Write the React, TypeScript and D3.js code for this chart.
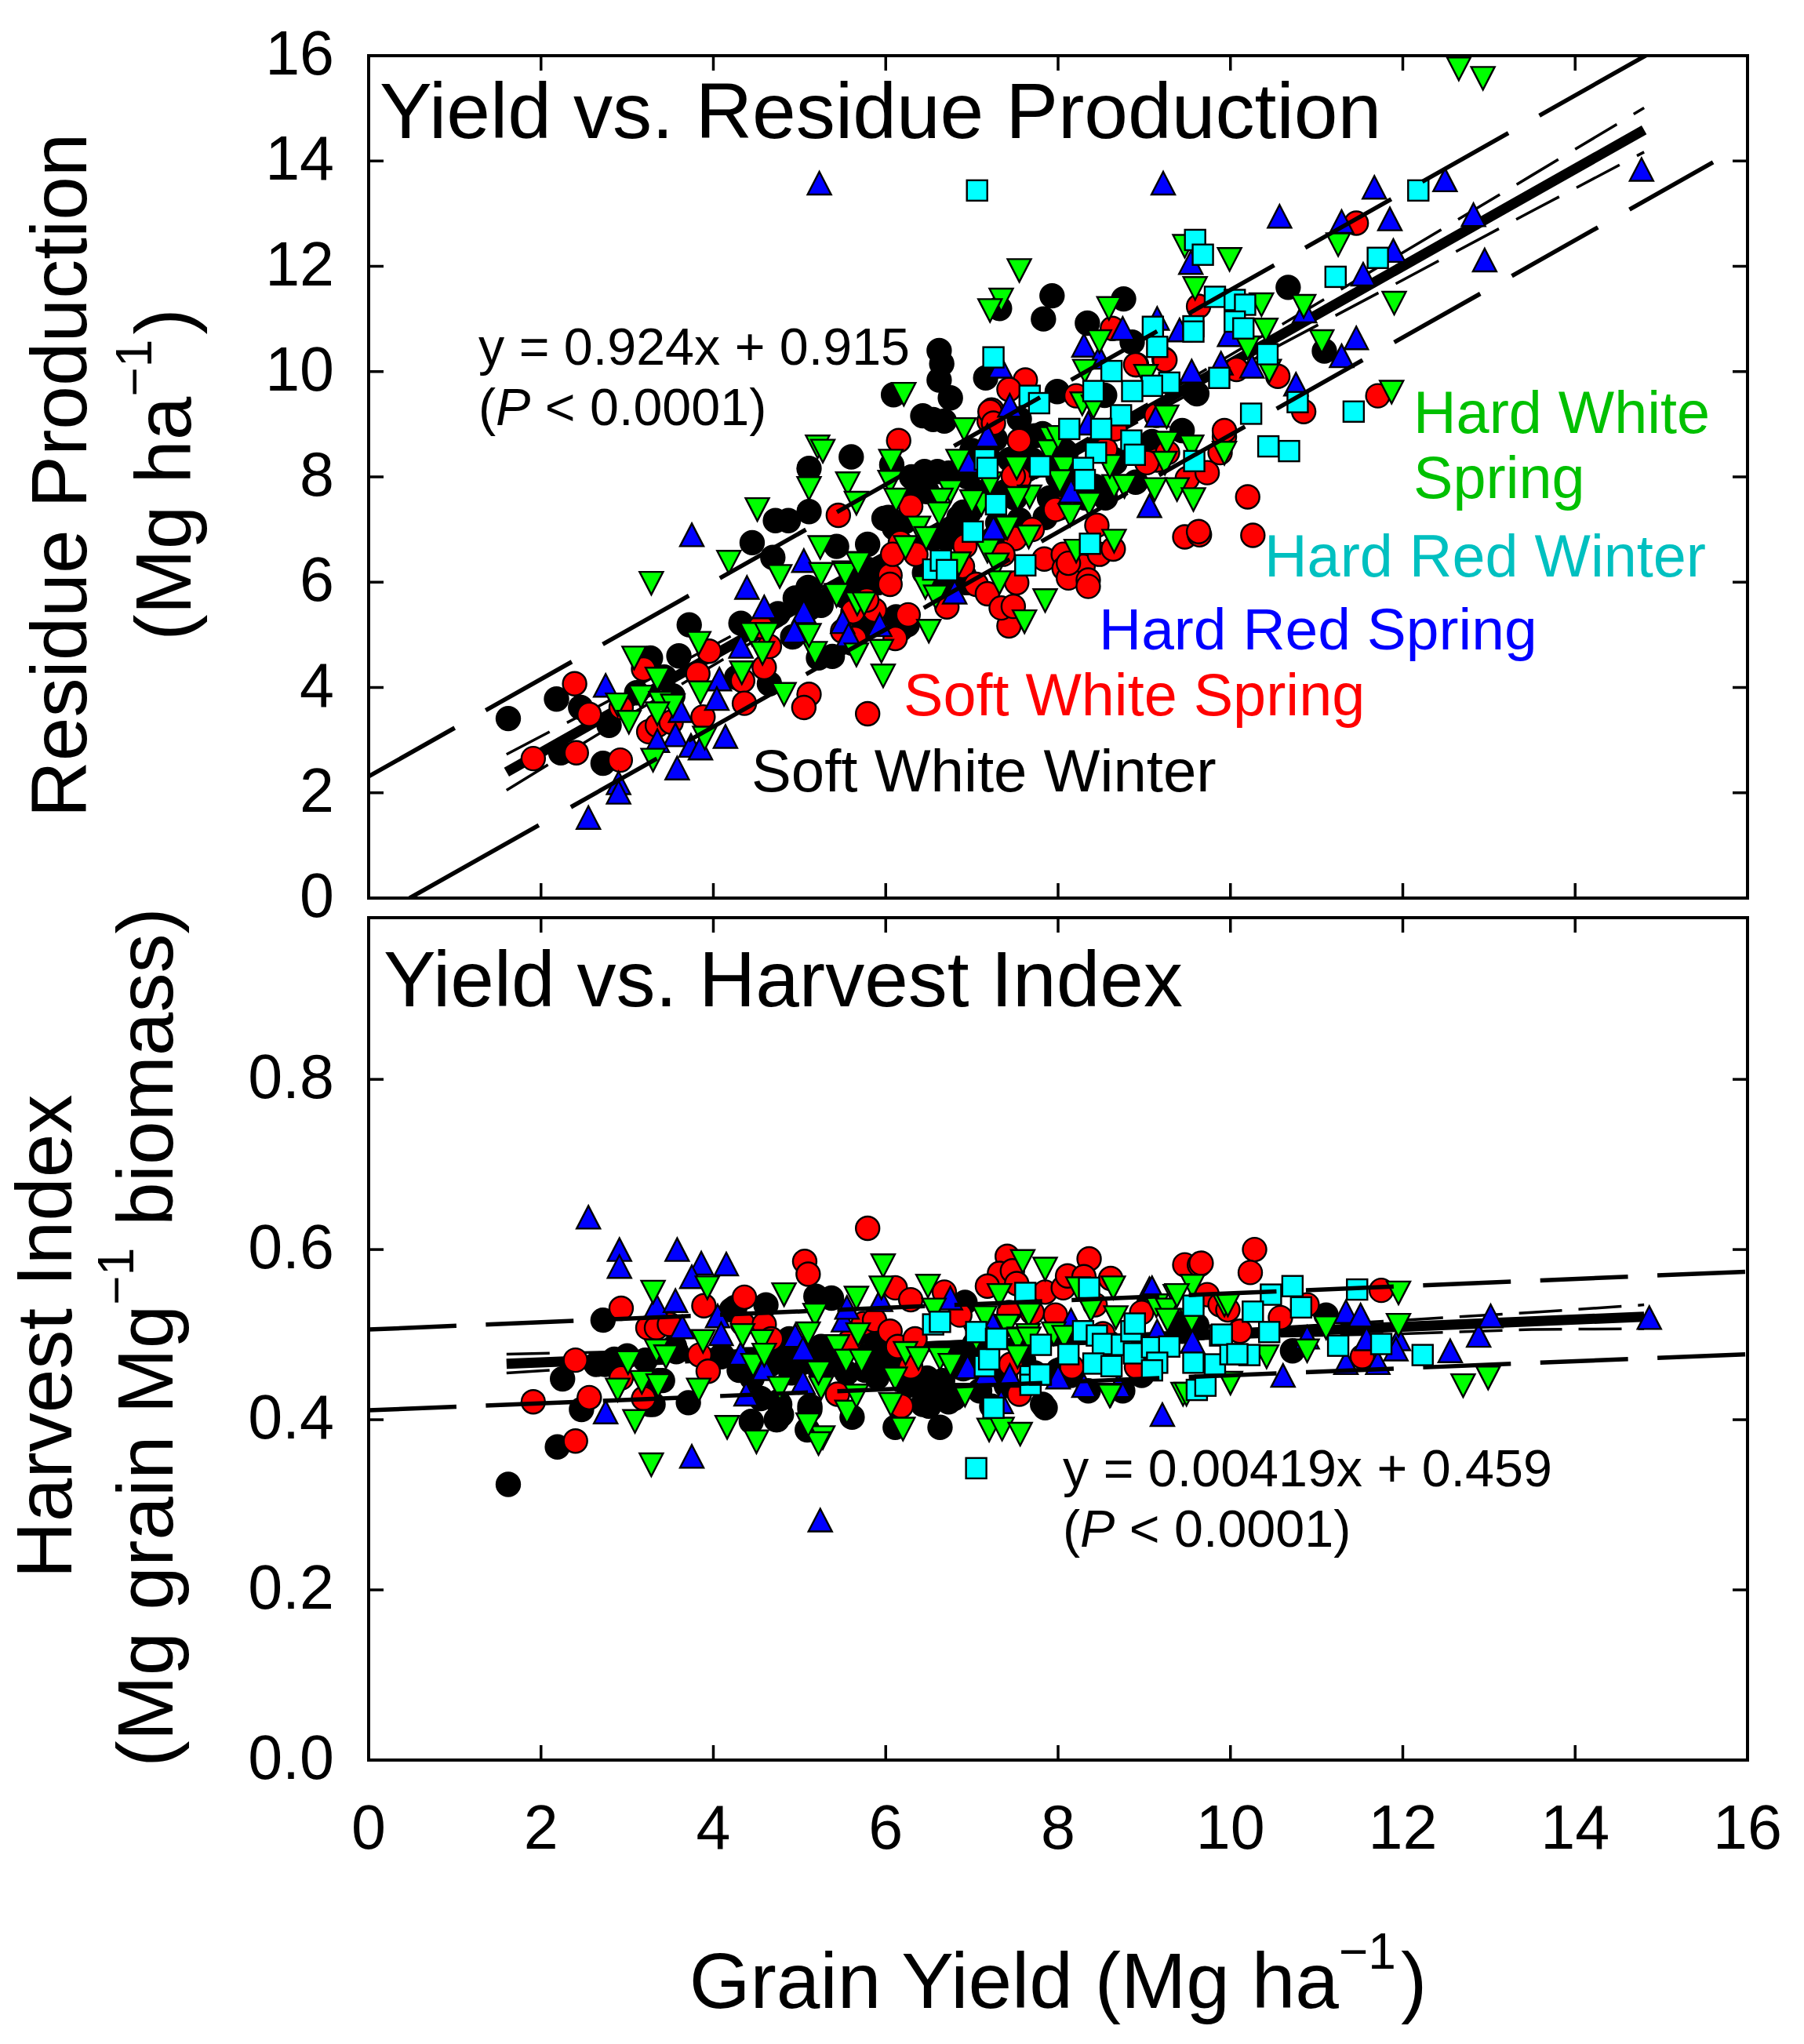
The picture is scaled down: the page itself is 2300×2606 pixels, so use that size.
import React from "react";
import * as d3 from "d3";

type Pt = [number, number];

const xTicks = [0, 2, 4, 6, 8, 10, 12, 14, 16];
const residueTicks = [0, 2, 4, 6, 8, 10, 12, 14, 16];
const hiTicks = ["0.0", "0.2", "0.4", "0.6", "0.8"];

// [grain yield, residue production]
const softWhiteWinterResidue: Pt[] = [[1.62,3.41],[2.18,3.78],[2.23,2.76],[2.46,3.62],[2.72,2.56],[2.79,3.28],[3.27,4.56],[3.11,3.9],[3.43,4.2],[3.53,3.84],[3.72,5.19],[4.32,5.22],[4.65,4.07],[4.27,4.19],[5.22,4.56],[5.38,4.59],[5.11,5.5],[4.92,4.96],[4.45,6.75],[4.69,6.47],[4.72,7.17],[4.87,7.17],[5.11,7.34],[5.43,6.68],[5.79,6.72],[5.11,8.16],[5.6,8.38],[6.09,9.56],[6.07,8.23],[6.62,10.4],[6.65,10.15],[6.62,9.84],[6.75,9.5],[6.43,9.16],[6.55,9.09],[6.68,9.06],[7.16,9.88],[6.45,8.1],[6.6,8.1],[6.73,8.07],[6.3,8.0],[6.03,7.23],[6.1,7.03],[6.48,7.72],[6.9,7.33],[6.73,6.93],[6.55,6.83],[6.85,7.1],[7.93,11.44],[7.83,11.0],[8.76,11.38],[8.34,10.92],[7.32,11.2],[10.67,11.6],[11.09,10.39],[9.58,9.62],[9.44,8.88],[8.86,10.56],[7.99,9.62],[8.54,9.55],[9.09,8.67],[8.65,8.33],[8.07,8.5],[7.73,8.78],[7.44,8.33],[8.05,7.76],[8.31,7.6],[5.1,5.9],[5.25,5.56],[5.52,5.74],[5.8,6.24],[6.22,7.15],[5.98,7.21],[5.75,6.0],[6.17,5.1],[6.91,6.13],[7.7,8.32],[7.6,8.67],[7.39,7.72],[7.85,7.23],[7.82,8.82],[8.43,7.82],[8.09,8.47],[7.18,8.42],[7.27,8.72],[8.66,8.27],[9.61,9.58],[6.7,6.83],[6.85,7.23],[6.97,7.33],[6.15,7.12],[6.3,7.57],[5.73,6.08],[5.91,5.99],[5.64,5.84],[6.94,5.99],[6.7,5.93],[6.12,5.34],[6.25,5.19],[5.73,5.14],[5.61,4.84],[6.45,6.18],[6.82,6.18],[7.25,6.83],[7.55,7.18],[7.3,7.12],[7.1,7.7],[7.5,7.6],[8.0,8.0],[8.25,8.1],[8.55,7.6],[8.9,7.9],[7.9,7.6],[6.95,8.0],[7.0,8.5],[7.55,9.1],[3.6,4.6],[4.75,5.4],[4.95,5.7]];
const softWhiteSpringResidue: Pt[] = [[2.39,4.07],[2.56,3.49],[1.91,2.65],[2.41,2.76],[2.92,2.62],[3.19,4.35],[2.93,3.62],[3.25,3.16],[3.35,3.28],[3.51,3.34],[3.82,4.26],[3.88,3.44],[3.95,4.69],[4.34,4.13],[4.36,3.7],[4.59,4.38],[4.65,4.78],[4.55,5.16],[5.11,3.87],[5.05,3.62],[5.79,3.5],[6.11,4.93],[6.26,5.38],[5.5,5.07],[5.64,4.93],[5.87,5.47],[5.78,5.66],[5.62,5.44],[6.05,6.13],[6.05,5.96],[6.71,5.53],[5.45,7.27],[6.29,7.44],[6.17,6.75],[6.08,6.53],[6.35,6.53],[6.92,6.69],[6.89,6.3],[6.15,8.69],[7.23,9.27],[7.2,9.06],[7.62,9.84],[7.43,9.66],[7.21,9.24],[7.25,9.02],[7.55,8.69],[7.55,7.97],[8.91,10.13],[9.23,10.24],[8.21,9.54],[9.14,9.17],[8.55,8.52],[8.66,8.91],[8.02,7.41],[9.15,8.32],[9.27,8.46],[9.03,8.27],[9.5,7.97],[9.73,8.08],[9.93,8.76],[9.88,8.46],[9.47,6.86],[9.64,6.9],[7.7,7.0],[7.5,6.83],[7.36,6.53],[7.84,6.44],[8.06,6.53],[8.07,6.26],[8.29,6.3],[8.48,6.53],[8.64,6.63],[8.45,7.08],[8.12,6.08],[8.35,6.04],[7.48,8.02],[11.46,12.82],[11.71,9.54],[10.85,9.24],[10.55,9.91],[10.07,10.04],[9.93,8.88],[10.2,7.62],[9.63,11.24],[9.24,10.22],[8.9,10.13],[8.63,10.82],[10.26,6.89],[9.63,6.96],[8.35,5.92],[7.43,5.17],[7.05,5.96],[8.12,6.36],[7.18,5.78],[7.34,5.51],[7.48,5.54],[7.52,5.99],[7.97,7.38]];
const hardRedSpringResidue: Pt[] = [[9.22,13.58],[5.23,13.58],[11.67,13.5],[12.49,13.64],[10.57,12.95],[11.29,12.85],[11.85,12.9],[14.77,13.84],[12.82,12.98],[12.95,12.12],[11.89,12.3],[11.54,11.85],[9.54,12.07],[10.86,11.15],[9.15,11.01],[9.41,10.79],[9.99,10.7],[8.75,10.82],[8.3,10.5],[11.46,10.64],[11.29,10.3],[8.48,10.27],[9.55,10.01],[9.89,10.16],[10.25,10.1],[10.76,9.76],[9.15,9.17],[7.44,9.36],[7.33,10.1],[8.35,9.02],[7.18,8.79],[8.15,7.73],[9.06,7.45],[3.75,6.9],[4.39,5.9],[4.59,5.53],[5.05,6.41],[5.05,5.44],[4.94,5.07],[5.5,5.25],[5.57,5.0],[5.93,5.19],[6.8,5.81],[4.32,4.78],[4.07,4.16],[4.04,3.79],[3.62,3.56],[3.56,3.1],[3.35,2.99],[4.14,3.07],[3.74,2.9],[3.85,2.85],[2.75,4.04],[2.9,2.19],[2.9,2.01],[3.58,2.47],[2.55,1.53],[6.95,8.3],[7.25,7.03]];
const hardWhiteSpringResidue: Pt[] = [[12.65,15.75],[12.93,15.57],[7.55,11.92],[9.99,12.13],[11.25,12.41],[9.47,12.38],[11.9,11.3],[9.59,11.58],[7.34,11.36],[7.21,11.16],[8.59,11.2],[10.36,11.27],[10.85,11.24],[10.41,10.79],[8.48,10.57],[11.06,10.57],[10.2,10.45],[11.87,9.61],[8.31,10.01],[9.02,9.91],[8.28,9.39],[8.41,9.33],[9.26,9.14],[10.45,10.01],[7.92,8.73],[7.89,8.48],[9.26,8.64],[9.93,8.45],[9.55,8.57],[9.24,8.26],[9.12,7.76],[9.38,7.76],[9.57,7.57],[8.65,7.82],[8.77,7.82],[7.52,8.17],[8.07,8.17],[8.02,7.91],[7.67,7.62],[7.53,7.59],[8.36,7.48],[6.21,9.57],[5.21,8.57],[5.27,8.49],[5.56,7.87],[5.11,7.78],[4.51,7.38],[6.06,8.3],[6.05,7.9],[5.66,7.5],[6.12,7.56],[6.38,7.03],[6.47,6.83],[6.23,6.66],[5.24,6.66],[5.7,6.36],[5.52,6.18],[4.77,6.11],[5.25,6.15],[6.75,7.72],[6.64,7.56],[6.62,7.3],[6.91,8.9],[6.84,8.3],[7.11,7.48],[7.0,7.53],[7.21,7.87],[7.18,6.59],[6.84,6.33],[4.18,6.38],[3.28,5.98],[5.53,6.15],[5.68,6.35],[5.43,5.75],[5.67,5.59],[6.5,5.07],[5.95,4.69],[5.97,4.22],[5.66,4.62],[5.18,4.65],[5.11,4.99],[4.45,5.01],[4.62,5.01],[4.57,4.65],[4.33,4.28],[3.83,4.84],[4.82,3.87],[3.85,3.9],[3.08,4.56],[3.35,4.16],[3.16,3.82],[2.89,3.67],[3.02,3.34],[3.39,3.7],[3.53,3.65],[3.35,3.5],[3.3,2.62],[3.9,3.04],[6.46,5.9],[6.58,5.72],[6.85,6.35],[7.61,5.25],[7.85,5.65],[8.65,6.78],[7.66,6.86],[8.14,7.27],[7.41,7.03],[7.29,6.33],[7.32,5.99],[8.21,6.59],[5.75,5.59],[8.0,8.75],[8.6,8.2]];
const hardRedWinterResidue: Pt[] = [[7.06,13.44],[12.18,13.44],[9.59,12.5],[9.68,12.22],[11.71,12.16],[11.22,11.8],[9.82,11.42],[10.05,11.36],[10.17,11.27],[10.05,10.95],[10.15,10.82],[9.57,10.86],[9.1,10.85],[9.15,10.47],[10.43,10.33],[7.25,10.27],[9.87,9.88],[9.29,9.79],[9.09,9.73],[8.86,9.63],[8.62,10.01],[8.41,9.63],[10.78,9.42],[10.24,9.2],[11.43,9.24],[10.44,8.58],[10.68,8.49],[7.67,9.54],[7.78,9.4],[8.73,9.17],[8.13,8.91],[8.5,8.91],[8.85,8.69],[8.44,8.46],[8.89,8.42],[9.58,8.3],[7.79,8.2],[8.29,8.17],[7.15,8.33],[7.18,8.17],[8.31,7.94],[7.28,7.48],[6.55,6.24],[6.64,6.41],[7.01,6.96],[7.62,6.32],[8.37,6.73],[9.57,10.76],[6.71,6.23]];

// [grain yield, harvest index]
const softWhiteWinterHI: Pt[] = [[1.62,.324],[2.19,.368],[2.47,.412],[2.72,.517],[2.25,.448],[2.74,.465],[3.71,.42],[3.26,.418],[3.36,.446],[3.57,.48],[3.21,.47],[4.1,.476],[4.31,.462],[4.25,.532],[4.61,.535],[4.44,.398],[4.74,.4],[5.12,.416],[5.09,.388],[4.77,.418],[5.19,.545],[5.37,.543],[5.61,.403],[5.04,.483],[5.82,.471],[6.11,.391],[6.5,.416],[6.63,.391],[6.55,.443],[6.14,.471],[6.92,.538],[7.23,.416],[7.85,.414],[6.43,.418],[6.73,.421],[6.55,.434],[8.35,.434],[8.75,.434],[9.56,.508],[10.72,.481],[11.11,.523],[9.44,.504],[7.82,.418],[5.55,.455],[5.9,.45],[6.3,.445],[6.9,.46],[7.1,.475],[7.4,.44],[3.0,.475],[4.9,.455],[5.3,.47],[5.6,.49],[6.7,.43],[8.05,.46],[7.6,.47],[8.6,.49],[3.41,.446],[3.55,.486],[3.3,.418],[4.09,.474],[4.3,.458],[4.21,.529],[4.88,.483],[4.75,.471],[2.85,.471],[2.64,.465],[4.73,.4],[5.0,.47],[5.88,.467],[5.76,.458],[6.06,.465],[4.88,.495],[5.24,.458],[5.43,.465],[5.03,.467],[6.48,.449],[6.66,.446],[6.79,.425],[6.45,.421],[4.66,.465],[4.45,.449],[4.55,.425],[4.79,.406],[4.75,.421],[5.12,.412],[5.25,.486],[5.88,.495],[6.3,.452],[6.25,.44],[7.09,.434],[7.15,.458],[6.88,.476],[7.03,.489],[8.0,.458],[8.15,.452],[7.73,.455],[7.39,.449],[8.97,.452],[9.61,.511],[9.39,.513]];
const softWhiteSpringHI: Pt[] = [[1.91,.421],[2.4,.375],[2.56,.426],[2.4,.47],[2.93,.531],[2.93,.449],[3.19,.425],[3.24,.508],[3.34,.508],[3.49,.512],[3.84,.476],[3.94,.457],[3.89,.534],[4.36,.544],[4.34,.513],[4.59,.512],[4.67,.495],[5.06,.586],[5.1,.571],[5.79,.625],[6.11,.555],[6.29,.541],[5.44,.43],[6.18,.416],[5.58,.492],[5.74,.513],[5.87,.517],[6.05,.504],[6.14,.486],[6.34,.495],[6.29,.462],[6.68,.55],[6.86,.523],[7.41,.592],[7.32,.572],[7.47,.575],[7.18,.557],[7.52,.56],[7.85,.55],[8.06,.555],[8.11,.569],[8.36,.589],[8.3,.568],[8.61,.566],[9.47,.582],[9.64,.582],[9.66,.584],[9.73,.547],[9.88,.535],[7.97,.523],[7.7,.526],[7.43,.526],[7.45,.465],[7.55,.43],[8.16,.462],[8.97,.526],[8.91,.462],[8.52,.501],[10.28,.6],[10.23,.573],[10.89,.535],[10.58,.52],[11.75,.552],[11.53,.474],[10.11,.504],[9.97,.529],[8.43,.535],[7.28,.505]];
const hardRedSpringHI: Pt[] = [[2.55,.638],[2.91,.6],[2.91,.58],[3.58,.6],[3.86,.584],[4.15,.583],[3.75,.568],[3.34,.534],[3.56,.54],[3.64,.509],[4.05,.522],[4.09,.501],[2.75,.409],[3.75,.357],[5.24,.282],[4.32,.478],[4.59,.46],[4.38,.43],[4.95,.499],[5.04,.483],[5.04,.444],[5.51,.517],[5.55,.532],[5.94,.541],[6.75,.543],[6.95,.462],[7.23,.515],[7.17,.455],[7.44,.452],[7.34,.421],[8.15,.517],[9.06,.554],[9.15,.504],[9.56,.492],[9.21,.406],[8.3,.44],[9.09,.555],[10.61,.452],[11.34,.527],[11.51,.523],[10.89,.497],[11.58,.495],[11.95,.495],[11.92,.483],[11.34,.467],[11.71,.467],[12.55,.481],[12.88,.499],[13.02,.522],[14.86,.52],[8.7,.44],[8.0,.45]];
const hardWhiteSpringHI: Pt[] = [[3.3,.55],[3.93,.555],[4.82,.547],[5.97,.581],[5.95,.555],[5.66,.543],[6.49,.557],[7.59,.586],[7.85,.577],[7.32,.546],[7.66,.523],[6.56,.529],[7.15,.52],[5.18,.523],[5.1,.501],[4.56,.492],[4.34,.499],[3.88,.492],[3.34,.481],[3.45,.474],[3.01,.467],[3.17,.444],[3.36,.44],[2.89,.435],[3.83,.435],[3.09,.398],[3.28,.347],[4.16,.391],[4.5,.374],[5.27,.379],[5.22,.372],[5.1,.394],[5.55,.409],[6.2,.389],[7.2,.388],[7.35,.389],[7.56,.383],[6.06,.418],[5.25,.437],[5.22,.455],[4.77,.437],[4.46,.464],[4.59,.476],[5.44,.486],[5.54,.469],[5.72,.469],[5.68,.5],[6.23,.478],[6.38,.472],[6.63,.472],[6.75,.464],[6.11,.448],[5.66,.428],[6.92,.429],[7.41,.51],[7.55,.495],[7.65,.499],[7.05,.495],[8.64,.555],[8.23,.554],[8.38,.529],[8.67,.52],[9.36,.545],[9.56,.557],[9.93,.535],[9.14,.534],[9.27,.529],[9.27,.517],[9.55,.517],[7.53,.494],[7.66,.495],[7.53,.474],[7.95,.501],[8.07,.497],[8.61,.429],[9.45,.43],[9.38,.546],[9.97,.535],[11.11,.508],[11.95,.549],[11.95,.511],[12.7,.44],[12.99,.449],[10.0,.443],[10.89,.481],[10.42,.474],[9.49,.43],[8.6,.428]];
const hardRedWinterHI: Pt[] = [[7.05,.343],[6.55,.512],[6.63,.515],[7.05,.503],[7.28,.495],[7.15,.463],[7.2,.471],[7.25,.414],[7.62,.549],[7.8,.488],[7.8,.453],[7.68,.446],[8.36,.555],[9.57,.534],[8.29,.504],[8.45,.499],[8.12,.477],[8.52,.489],[8.74,.488],[8.41,.466],[8.62,.463],[8.85,.504],[8.89,.513],[8.88,.478],[9.09,.485],[9.29,.486],[9.15,.467],[9.09,.458],[9.57,.467],[9.82,.465],[9.88,.499],[10.0,.477],[9.61,.435],[9.71,.44],[7.68,.451],[7.68,.441],[7.79,.453],[10.72,.557],[10.47,.547],[11.47,.553],[10.82,.532],[10.26,.527],[10.45,.503],[9.9,.5],[11.25,.487],[11.75,.489],[12.23,.476],[10.22,.476],[10.08,.477],[7.29,.495]];

const residueSlope = 0.924, residueIntercept = 0.915;
const residueUpperIntercept = 2.31, residueLowerIntercept = -0.44;
const hiSlope = 0.00419, hiIntercept = 0.459;
const hiUpperEnds: Pt[] = [[0, .506], [16, .574]];
const hiLowerEnds: Pt[] = [[0, .411], [16, .477]];
const fitEndsX = [1.6, 14.8];
const bandX = [1.6, 3, 4.5, 6, 7.5, 9, 10.5, 12, 13.5, 14.8];
const residueBandUpper = [2.73, 3.93, 5.23, 6.57, 7.94, 9.35, 10.8, 12.26, 13.73, 15.01];
const residueBandLower = [2.05, 3.45, 4.91, 6.35, 7.76, 9.11, 10.44, 11.74, 13.05, 14.17];
const hiBandUpper = [.477, .48, .484, .489, .494, .501, .508, .517, .526, .535];
const hiBandLower = [.455, .464, .472, .479, .486, .493, .498, .501, .506, .507];

const FONT = "'Liberation Sans', Arial, sans-serif";
const L = 470, R = 2228;
const x = d3.scaleLinear().domain([0, 16]).range([L, R]);
const yTop = d3.scaleLinear().domain([0, 16]).range([1145, 71]);
const yBot = d3.scaleLinear().domain([0, 0.99]).range([2244, 1170]);
const pathOf = (pts: Pt[], y: d3.ScaleLinear<number, number>) =>
  d3.line<Pt>().x(d => x(d[0])).y(d => y(d[1]))(pts) as string;

const repeatDash = (n: number, dash: number, gap: number) => d3.range(n).flatMap(() => [dash, gap]);
const upperDash = [...repeatDash(10, 126, 45.4), 170, 100].join(" ");
const lowerDash = [189, 47, ...repeatDash(12, 126, 46.2)].join(" ");

const MARK = { strokeWidth: 2.4, stroke: "#000" };
const circle = (p: Pt, y: any, fill: string, k: number) => (
  <circle key={k} cx={x(p[0])} cy={y(p[1])} r={15} fill={fill} {...MARK} />
);
const tri = (p: Pt, y: any, fill: string, k: number, up: boolean) => {
  const cx = x(p[0]), cy = y(p[1]), h = 14.5, w = 15;
  const pts = up
    ? `${cx},${cy - h} ${cx + w},${cy + h} ${cx - w},${cy + h}`
    : `${cx},${cy + h} ${cx + w},${cy - h} ${cx - w},${cy - h}`;
  return <polygon key={k} points={pts} fill={fill} {...MARK} />;
};
const square = (p: Pt, y: any, k: number) => (
  <rect key={k} x={x(p[0]) - 13} y={y(p[1]) - 13} width={26} height={26} fill="#00ffff" {...MARK} />
);

function Markers({ y, black, red, blue, green, cyan }: any) {
  return (
    <g>
      {black.map((p: Pt, i: number) => circle(p, y, "#000", i))}
      {red.map((p: Pt, i: number) => circle(p, y, "#ff0000", i))}
      {blue.map((p: Pt, i: number) => tri(p, y, "#0000ff", i, true))}
      {green.map((p: Pt, i: number) => tri(p, y, "#00ff00", i, false))}
      {cyan.map((p: Pt, i: number) => square(p, y, i))}
    </g>
  );
}

function Frame({ y, top, bottom, yt }: any) {
  const t = 19;
  return (
    <g stroke="#000" strokeWidth={3.5} fill="none">
      <rect x={L} y={top} width={R - L} height={bottom - top} strokeWidth={4} />
      {xTicks.slice(1, -1).map(v => (
        <g key={v}>
          <line x1={x(v)} x2={x(v)} y1={bottom} y2={bottom - t} />
          <line x1={x(v)} x2={x(v)} y1={top} y2={top + t} />
        </g>
      ))}
      {yt.map((v: number) => (
        <g key={v}>
          <line x1={L} x2={L + t} y1={y(v)} y2={y(v)} />
          <line x1={R} x2={R - t} y1={y(v)} y2={y(v)} />
        </g>
      ))}
    </g>
  );
}

const SUP_RISE = 50;
const Sup = ({ children }: any) => (
  <tspan dy={-SUP_RISE} fontSize={64}>{children}</tspan>
);
const Back = ({ children, dx = 0 }: any) => <tspan dy={SUP_RISE} dx={dx}>{children}</tspan>;

export default function App() {
  const topFit: Pt[] = fitEndsX.map(v => [v, residueSlope * v + residueIntercept]);
  const botFit: Pt[] = fitEndsX.map(v => [v, hiSlope * v + hiIntercept]);
  const topUpper: Pt[] = [[0, residueUpperIntercept], [16, residueUpperIntercept + residueSlope * 16]];
  const topLower: Pt[] = [[-residueLowerIntercept / residueSlope, 0], [15.6, residueLowerIntercept + residueSlope * 15.6]];
  const band = (ys: number[]): Pt[] => bandX.map((v, i) => [v, ys[i]]);
  return (
    <svg width={2300} height={2606} viewBox="0 0 2300 2606"
      style={{ position: "absolute", left: 0, top: 0, background: "#fff", fontFamily: FONT }}>
      <defs>
        <clipPath id="ct"><rect x={L} y={71} width={R - L} height={1074} /></clipPath>
        <clipPath id="cb"><rect x={L} y={1170} width={R - L} height={1074} /></clipPath>
      </defs>

      {/* top panel */}
      <g fill="none" stroke="#000" clipPath="url(#ct)">
        <path d={pathOf(band(residueBandUpper), yTop)} strokeWidth={3.5} strokeDasharray="62 25" />
        <path d={pathOf(band(residueBandLower), yTop)} strokeWidth={3.5} strokeDasharray="62 25" />
        <path d={pathOf(topFit, yTop)} strokeWidth={13} />
      </g>
      <Markers y={yTop} black={softWhiteWinterResidue} red={softWhiteSpringResidue} blue={hardRedSpringResidue}
        green={hardWhiteSpringResidue} cyan={hardRedWinterResidue} />
      <g fill="none" stroke="#000" clipPath="url(#ct)" strokeWidth={5.5}>
        <path d={pathOf(topUpper, yTop)} strokeDasharray={upperDash} />
        <path d={pathOf(topLower, yTop)} strokeDasharray={lowerDash} />
      </g>
      <Frame y={yTop} top={71} bottom={1145} yt={residueTicks.slice(1, -1)} />

      {/* bottom panel */}
      <g fill="none" stroke="#000" clipPath="url(#cb)">
        <path d={pathOf(band(hiBandUpper), yBot)} strokeWidth={3.5} strokeDasharray="55 21" />
        <path d={pathOf(band(hiBandLower), yBot)} strokeWidth={3.5} strokeDasharray="55 21" />
        <path d={pathOf(botFit, yBot)} strokeWidth={13} />
      </g>
      <Markers y={yBot} black={softWhiteWinterHI} red={softWhiteSpringHI} blue={hardRedSpringHI}
        green={hardWhiteSpringHI} cyan={hardRedWinterHI} />
      <g fill="none" stroke="#000" clipPath="url(#cb)" strokeWidth={5.5}>
        <path d={pathOf(hiUpperEnds, yBot)} strokeDasharray="112 37.5" />
        <path d={pathOf(hiLowerEnds, yBot)} strokeDasharray="112 37.5" />
      </g>
      <Frame y={yBot} top={1170} bottom={2244} yt={hiTicks.slice(1).map(Number)} />

      {/* tick labels */}
      <g fontSize={79} fill="#000">
        {residueTicks.map(v => (
          <text key={v} x={426} y={yTop(v) + 24} textAnchor="end">{v}</text>
        ))}
        {hiTicks.map(v => (
          <text key={v} x={426} y={yBot(Number(v)) + 24} textAnchor="end">{v}</text>
        ))}
        {xTicks.map(v => (
          <text key={v} x={x(v)} y={2357} textAnchor="middle">{v}</text>
        ))}
      </g>

      {/* titles */}
      <text x={484} y={176} fontSize={100.2}>Yield vs. Residue Production</text>
      <text x={489} y={1283} fontSize={100}>Yield vs. Harvest Index</text>

      {/* equations */}
      <g fontSize={66.4}>
        <text x={610} y={465}>y = 0.924x + 0.915</text>
        <text x={610} y={542}>(<tspan fontStyle="italic">P</tspan> &lt; 0.0001)</text>
        <text x={1355} y={1895}>y = 0.00419x + 0.459</text>
        <text x={1355} y={1972}>(<tspan fontStyle="italic">P</tspan> &lt; 0.0001)</text>
      </g>

      {/* series names */}
      <g fontSize={75.6}>
        <text x={958} y={1009} fill="#000" fontSize={76.2}>Soft White Winter</text>
        <text x={1152} y={912} fill="#ff0000">Soft White Spring</text>
        <text x={1401} y={828} fill="#0000ff" fontSize={75}>Hard Red Spring</text>
        <text x={1612} y={735} fill="#00c0c0">Hard Red Winter</text>
        <text x={1802} y={552} fill="#00c000">Hard White</text>
        <text x={1802} y={635} fill="#00c000">Spring</text>
      </g>

      {/* axis titles */}
      <g fontSize={100} textAnchor="middle">
        <text transform="translate(110,606) rotate(-90)">Residue Production</text>
        <text transform="translate(243,605) rotate(-90)">(Mg ha<Sup>{"\u22121"}</Sup><Back dx={6}>)</Back></text>
        <text transform="translate(91,1704) rotate(-90)">Harvest Index</text>
        <text transform="translate(220,1705) rotate(-90)">(Mg grain Mg<Sup>{"\u22121"}</Sup><Back> biomass)</Back></text>
        <text x={1349} y={2560}>Grain Yield (Mg ha<Sup>{"\u22121"}</Sup><Back dx={6}>)</Back></text>
      </g>
    </svg>
  );
}
